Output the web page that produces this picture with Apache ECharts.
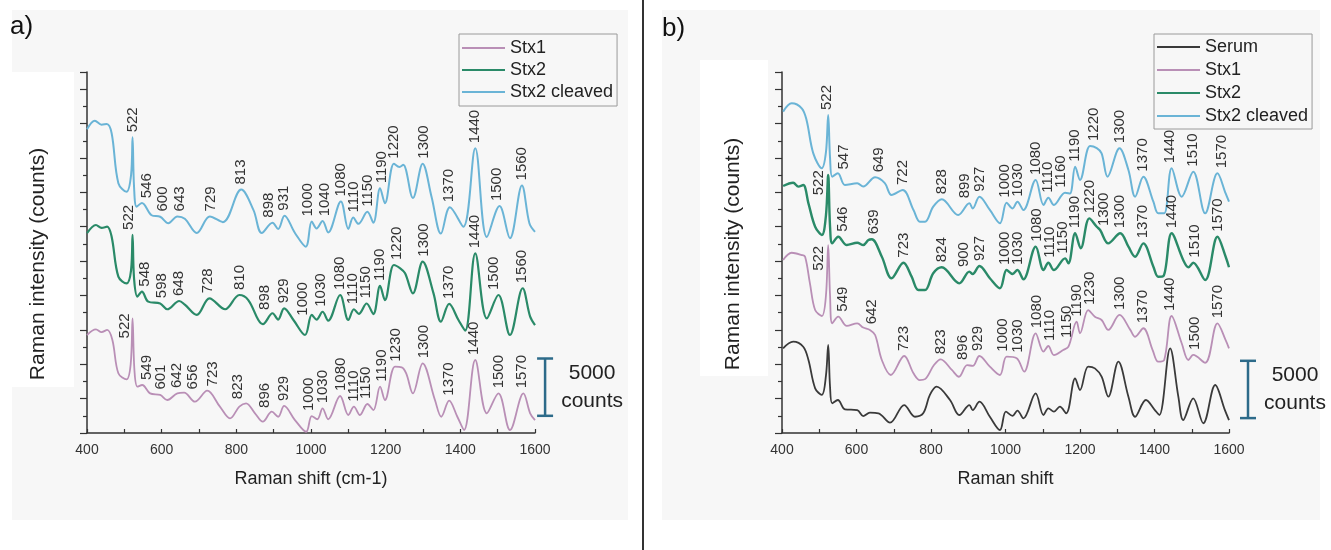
<!DOCTYPE html>
<html><head><meta charset="utf-8">
<script src="https://cdn.jsdelivr.net/npm/echarts/dist/echarts.min.js"></script>
<style>html,body{margin:0;padding:0;background:#fff}#c{width:1331px;height:550px}</style>
</head><body><div id="c"></div>
<script>
// ---------- DATA (Raman shift cm-1, intensity in thousands of counts, offset-stacked) ----------
const xTicks = [400, 600, 800, 1000, 1200, 1400, 1600];
const seriesNames = ['Serum', 'Stx1', 'Stx2', 'Stx2 cleaved'];

// Panel a
const aStx1 = [[400,8.55],[424,9.05],[439,8.8],[454,8.99],[468,8.12],[484,5.21],[506,4.68],[517,6.0],[522,10.0],[527,5.5],[535,4.04],[548,4.19],[569,3.46],[596,3.32],[615,2.88],[642,3.46],[660,3.52],[689,2.73],[722,3.69],[756,2.3],[783,1.28],[808,2.3],[826,2.59],[850,1.72],[871,0.99],[895,1.86],[912,1.42],[928,2.36],[957,1.13],[987,0.11],[1002,1.48],[1017,1.2],[1031,2.15],[1046,1.2],[1078,3.23],[1100,1.57],[1115,2.3],[1131,1.57],[1151,2.53],[1167,2.0],[1185,4.04],[1198,2.88],[1225,5.79],[1243,5.73],[1255,5.2],[1273,3.46],[1299,6.08],[1332,2.88],[1349,1.42],[1370,2.82],[1392,1.42],[1410,0.26],[1440,6.37],[1471,1.72],[1502,3.46],[1533,0.26],[1569,3.46],[1587,1.72],[1600,1.13]];
const aStx2 = [[400,17.43],[424,18.15],[439,17.9],[454,18.0],[466,17.13],[484,13.64],[506,13.06],[518,14.2],[522,17.28],[526,13.5],[535,11.9],[547,12.33],[564,11.46],[596,11.3],[615,10.8],[647,11.52],[662,11.2],[694,10.3],[728,11.75],[770,10.8],[808,12.04],[832,11.6],[859,9.86],[871,9.5],[897,10.45],[912,9.9],[928,10.88],[953,9.86],[984,8.55],[1002,10.3],[1015,9.9],[1031,10.58],[1046,9.8],[1078,12.04],[1100,9.86],[1115,10.8],[1128,10.4],[1149,11.3],[1167,10.38],[1185,12.83],[1198,11.6],[1222,14.66],[1239,14.37],[1252,13.94],[1273,12.19],[1299,14.95],[1328,12.2],[1348,9.71],[1370,11.26],[1395,9.86],[1413,8.93],[1440,15.68],[1471,10.0],[1502,12.04],[1533,8.55],[1567,12.63],[1587,10.15],[1600,9.42]];
const aCleaved = [[400,26.5],[421,27.25],[439,26.9],[453,26.96],[466,26.15],[484,21.8],[506,21.05],[518,22.5],[522,25.8],[526,21.5],[533,19.75],[547,20.07],[573,19.0],[596,18.87],[618,18.3],[642,18.9],[662,18.7],[694,17.45],[729,18.9],[764,18.4],[813,21.25],[846,19.45],[868,17.45],[897,18.35],[912,17.8],[929,18.96],[957,17.45],[986,16.26],[1002,18.45],[1015,17.85],[1031,18.5],[1046,17.5],[1080,20.2],[1100,17.8],[1113,18.8],[1127,18.25],[1151,19.3],[1167,18.35],[1185,21.35],[1198,20.05],[1222,23.5],[1237,23.2],[1247,23.4],[1273,20.5],[1299,23.5],[1323,20.6],[1348,17.4],[1372,19.7],[1408,18.0],[1440,24.85],[1471,17.1],[1505,19.8],[1533,17.0],[1565,21.6],[1585,18.3],[1600,17.55]];

// Panel b
const bSerum = [[403,7.39],[430,7.97],[457,7.53],[471,6.37],[489,3.9],[507,3.32],[518,5.0],[524,7.68],[529,4.0],[535,2.59],[550,2.88],[569,2.07],[602,2.0],[618,1.48],[636,1.77],[659,1.72],[690,0.9],[728,2.44],[757,1.42],[779,1.72],[797,3.32],[815,4.04],[851,2.88],[876,1.57],[903,2.44],[912,2.0],[930,2.73],[958,1.42],[985,0.26],[1001,1.86],[1019,1.5],[1032,1.95],[1048,1.28],[1081,3.46],[1102,1.57],[1115,2.15],[1130,1.86],[1146,2.3],[1163,1.72],[1187,4.77],[1200,3.75],[1222,5.79],[1240,5.64],[1258,4.91],[1276,3.17],[1303,6.22],[1330,3.17],[1348,1.42],[1377,2.88],[1401,2.0],[1413,1.57],[1442,7.39],[1464,3.17],[1477,1.13],[1504,3.03],[1531,0.85],[1563,4.19],[1589,2.0],[1600,1.13]];
const bStx1 = [[403,15.1],[426,15.73],[453,15.53],[462,15.38],[475,13.06],[489,10.73],[507,10.21],[518,12.0],[524,16.4],[529,12.0],[535,9.57],[551,10.15],[574,9.34],[602,9.57],[618,9.2],[636,8.99],[650,8.55],[668,6.37],[692,5.06],[728,6.72],[753,5.21],[770,4.62],[784,4.7],[808,5.93],[826,6.43],[856,5.5],[875,4.91],[897,5.93],[912,5.85],[930,6.72],[958,5.79],[985,5.06],[1003,6.66],[1030,6.52],[1050,5.35],[1081,8.7],[1102,7.1],[1115,7.59],[1130,6.8],[1155,7.24],[1169,7.53],[1191,9.71],[1200,8.7],[1222,10.73],[1240,10.15],[1258,9.86],[1276,8.99],[1306,10.3],[1335,9.0],[1348,8.4],[1370,9.14],[1395,7.24],[1410,6.22],[1426,6.37],[1446,10.21],[1473,7.83],[1491,6.37],[1504,6.81],[1536,6.13],[1569,9.57],[1591,8.1],[1600,7.39]];
const bStx2 = [[403,21.55],[430,21.84],[444,21.5],[457,21.64],[471,20.04],[489,18.0],[507,17.28],[518,19.0],[524,22.51],[529,18.0],[535,16.55],[551,17.13],[574,16.4],[602,16.6],[618,16.4],[632,16.84],[641,16.9],[668,15.38],[694,13.5],[726,14.86],[748,13.64],[766,12.48],[784,12.48],[806,13.94],[829,14.46],[876,13.06],[903,14.08],[912,13.87],[930,14.57],[958,13.5],[985,12.63],[1003,14.22],[1019,13.87],[1032,14.22],[1048,13.41],[1081,16.26],[1102,14.22],[1115,14.86],[1130,14.22],[1160,15.24],[1169,14.8],[1187,17.43],[1202,16.12],[1225,18.73],[1245,18.0],[1254,17.71],[1276,16.55],[1308,17.43],[1330,16.26],[1348,15.38],[1370,16.55],[1397,14.51],[1410,13.64],[1424,13.7],[1446,17.43],[1477,15.1],[1491,14.46],[1504,14.86],[1536,13.35],[1569,17.13],[1591,15.38],[1600,14.46]];
const bCleaved = [[403,28.04],[426,28.77],[453,28.33],[466,27.3],[484,24.4],[507,23.1],[518,24.5],[524,27.75],[529,24.0],[535,22.37],[550,22.66],[569,21.64],[602,21.79],[618,21.5],[650,22.31],[676,21.8],[694,20.77],[724,21.2],[753,19.46],[770,18.44],[784,18.44],[806,19.75],[829,20.4],[873,19.02],[903,20.04],[912,19.6],[930,20.62],[958,19.46],[985,18.3],[1003,20.1],[1019,19.6],[1032,20.18],[1048,19.46],[1081,22.08],[1102,19.9],[1115,20.53],[1130,19.9],[1160,20.97],[1173,20.9],[1187,23.24],[1200,22.08],[1227,25.04],[1245,24.85],[1258,24.4],[1274,22.37],[1306,24.85],[1330,22.95],[1348,20.62],[1370,22.37],[1397,20.18],[1410,19.17],[1426,19.17],[1446,23.1],[1473,20.62],[1504,22.8],[1536,19.17],[1569,22.66],[1591,20.9],[1600,20.18]];

// Peak annotations: position (cm-1) and printed text
const aStx1LabelAt   = [502,560,598,640,683,737,805,877,928,993,1033,1080,1115,1147,1189,1228,1301,1370,1437,1502,1565];
const aStx1LabelText = ['522','549','601','642','656','723','823','896','929','1000','1030','1080','1110','1150','1190','1230','1300','1370','1440','1500','1570'];
const aStx2LabelAt   = [511,555,601,647,725,810,877,926,978,1026,1076,1113,1147,1185,1230,1301,1370,1440,1490,1565];
const aStx2LabelText = ['522','548','598','648','728','810','898','929','1000','1030','1080','1110','1150','1190','1220','1300','1370','1440','1500','1560'];
const aCleavedLabelAt   = [522,560,604,649,731,813,888,928,991,1038,1080,1115,1151,1189,1222,1301,1370,1440,1498,1565];
const aCleavedLabelText = ['522','546','600','643','729','813','898','931','1000','1040','1080','1110','1150','1190','1220','1300','1370','1440','1500','1560'];
const bStx1LabelAt   = [500,563,641,728,826,885,927,994,1032,1084,1118,1166,1191,1227,1306,1368,1440,1509,1571];
const bStx1LabelText = ['522','549','642','723','823','896','929','1000','1030','1080','1110','1150','1190','1230','1300','1370','1440','1500','1570'];
const bStx2LabelAt   = [500,563,647,726,829,889,932,999,1032,1084,1118,1155,1187,1227,1263,1306,1370,1446,1509,1571];
const bStx2LabelText = ['522','546','639','723','824','900','927','1000','1030','1080','1110','1150','1190','1220','1300','1300','1370','1440','1510','1570'];
const bCleavedLabelAt   = [520,566,659,724,829,891,932,999,1032,1081,1115,1148,1187,1236,1308,1370,1442,1504,1581];
const bCleavedLabelText = ['522','547','649','722','828','899','927','1000','1030','1080','1110','1160','1190','1220','1300','1370','1440','1510','1570'];

// Scale bars: [position cm-1, bottom, top] (thousand counts) and their text
const aScaleBar = [[1627, 1.5, 6.5]];
const bScaleBar = [[1651, 1.3, 6.3]];
const scaleText = ['5000', 'counts'];

// ---------- STYLE ----------
const COLORS = {'Serum':'#3a3a3a','Stx1':'#b98fb6','Stx2':'#2a8a68','Stx2 cleaved':'#6ab4d6'};
const FONT = '"Liberation Sans", Arial, sans-serif';
const BAR_COLOR = '#2d6b8a';

function interp(d, x) {
  if (x <= d[0][0]) return d[0][1];
  for (let i = 1; i < d.length; i++) {
    if (x <= d[i][0]) {
      const t = (x - d[i-1][0]) / (d[i][0] - d[i-1][0]);
      return d[i-1][1] + t * (d[i][1] - d[i-1][1]);
    }
  }
  return d[d.length-1][1];
}
function localMax(d, x, w) {
  let m = -Infinity;
  for (let t = x - w; t <= x + w; t += 1) m = Math.max(m, interp(d, t));
  return m;
}

function lineSeries(name, data, idx, width) {
  return {
    type: 'line', name, data, xAxisIndex: idx, yAxisIndex: idx,
    smooth: 0.35, symbol: 'none', showSymbol: false,
    lineStyle: {color: COLORS[name], width: width || 2},
    itemStyle: {color: COLORS[name]},
    z: 3
  };
}
function labelSeries(curve, at, texts, idx) {
  return {
    type: 'custom', coordinateSystem: 'cartesian2d', xAxisIndex: idx, yAxisIndex: idx,
    clip: false, silent: true, z: 5,
    data: at.map((x, i) => [x, (localMax(curve, x, 12) + localMax(curve, +texts[i], 8)) / 2]),
    renderItem: (params, api) => {
      const p = api.coord([api.value(0), api.value(1)]);
      return {
        type: 'text', x: p[0], y: p[1] - 5, rotation: Math.PI / 2,
        style: {text: texts[params.dataIndex], x: 0, y: 0, align: 'left', verticalAlign: 'middle',
                font: '15px ' + FONT, fill: '#333'}
      };
    }
  };
}
function scaleSeries(bar, idx) {
  return {
    type: 'custom', coordinateSystem: 'cartesian2d', xAxisIndex: idx, yAxisIndex: idx,
    clip: false, silent: true, z: 5, data: bar,
    renderItem: (params, api) => {
      const top = api.coord([api.value(0), api.value(2)]);
      const bot = api.coord([api.value(0), api.value(1)]);
      const x = top[0], cy = (top[1] + bot[1]) / 2;
      const st = {stroke: BAR_COLOR, lineWidth: 2.5};
      return {type: 'group', children: [
        {type: 'line', shape: {x1: x, y1: top[1], x2: x, y2: bot[1]}, style: st},
        {type: 'line', shape: {x1: x - 8, y1: top[1], x2: x + 8, y2: top[1]}, style: st},
        {type: 'line', shape: {x1: x - 8, y1: bot[1], x2: x + 8, y2: bot[1]}, style: st},
        {type: 'text', x: x + 47, y: cy - 14, style: {text: scaleText[0], align: 'center', verticalAlign: 'middle', font: '21px ' + FONT, fill: '#222'}},
        {type: 'text', x: x + 47, y: cy + 14, style: {text: scaleText[1], align: 'center', verticalAlign: 'middle', font: '21px ' + FONT, fill: '#222'}}
      ]};
    }
  };
}

function xAxisDef(idx, name) {
  return {
    type: 'value', gridIndex: idx, min: 400, max: 1600, interval: 200,
    name, nameLocation: 'middle', nameGap: 37,
    nameTextStyle: {fontSize: 18, color: '#222', fontFamily: FONT},
    axisLine: {lineStyle: {color: '#333', width: 1.5}},
    axisTick: {inside: true, length: 4, lineStyle: {color: '#333', width: 1.2}},
    minorTick: {show: true, splitNumber: 2, length: 4, lineStyle: {color: '#333', width: 1.2}},
    axisLabel: {fontSize: 14, color: '#333', fontFamily: FONT, margin: 10,
                formatter: v => xTicks.includes(v) ? String(v) : ''},
    splitLine: {show: false}
  };
}
function yAxisDef(idx) {
  return {
    type: 'value', gridIndex: idx, min: 0, max: 31.5, interval: 3,
    axisLine: {show: true, lineStyle: {color: '#333', width: 1.5}},
    axisTick: {show: true, inside: false, length: 7, lineStyle: {color: '#333', width: 1.2}},
    minorTick: {show: true, splitNumber: 2, length: 4, lineStyle: {color: '#333', width: 1.2}},
    axisLabel: {show: false},
    splitLine: {show: false}
  };
}
function legendDef(left, names, pad) {
  return {
    left, top: 34, orient: 'vertical', data: names,
    icon: 'rect', itemWidth: 43, itemHeight: 2, itemGap: pad.gap, padding: pad.p,
    borderColor: '#9a9a9a', borderWidth: 1, backgroundColor: 'transparent',
    textStyle: {fontSize: 18, color: '#222', fontFamily: FONT}
  };
}

const chart = echarts.init(document.getElementById('c'), null, {renderer: 'canvas'});
chart.setOption({
  animation: false,
  backgroundColor: '#ffffff',
  textStyle: {fontFamily: FONT},
  graphic: [
    {type: 'rect', shape: {x: 12, y: 10, width: 616, height: 510}, style: {fill: '#f7f7f7'}, z: -10},
    {type: 'rect', shape: {x: 662, y: 10, width: 658, height: 510}, style: {fill: '#f7f7f7'}, z: -10},
    {type: 'rect', shape: {x: 12, y: 72, width: 62, height: 315}, style: {fill: '#ffffff'}, z: -9},
    {type: 'rect', shape: {x: 700, y: 60, width: 68, height: 316}, style: {fill: '#ffffff'}, z: -9},
    {type: 'rect', shape: {x: 642, y: 0, width: 2, height: 550}, style: {fill: '#333'}, z: 10},
    {type: 'text', x: 10, y: 27, style: {text: 'a)', font: '26px ' + FONT, fill: '#111', verticalAlign: 'middle'}},
    {type: 'text', x: 662, y: 29, style: {text: 'b)', font: '26px ' + FONT, fill: '#111', verticalAlign: 'middle'}},
    {type: 'text', x: 38, y: 264, rotation: Math.PI / 2, style: {text: 'Raman intensity (counts)', font: '21px ' + FONT, fill: '#222', align: 'center', verticalAlign: 'middle'}},
    {type: 'text', x: 733, y: 254, rotation: Math.PI / 2, style: {text: 'Raman intensity (counts)', font: '21px ' + FONT, fill: '#222', align: 'center', verticalAlign: 'middle'}}
  ],
  legend: [
    legendDef(459, ['Stx1', 'Stx2', 'Stx2 cleaved'], {gap: 4, p: [5, 4, 5, 3]}),
    legendDef(1154, ['Serum', 'Stx1', 'Stx2', 'Stx2 cleaved'], {gap: 5, p: [4, 4, 4, 3]})
  ],
  grid: [
    {left: 87, top: 72, width: 448, height: 361},
    {left: 782, top: 72, width: 447, height: 361}
  ],
  xAxis: [xAxisDef(0, 'Raman shift (cm-1)'), xAxisDef(1, 'Raman shift')],
  yAxis: [yAxisDef(0), yAxisDef(1)],
  series: [
    lineSeries('Stx1', aStx1, 0, 1.8),
    lineSeries('Stx2', aStx2, 0, 2.2),
    lineSeries('Stx2 cleaved', aCleaved, 0, 2),
    labelSeries(aStx1, aStx1LabelAt, aStx1LabelText, 0),
    labelSeries(aStx2, aStx2LabelAt, aStx2LabelText, 0),
    labelSeries(aCleaved, aCleavedLabelAt, aCleavedLabelText, 0),
    scaleSeries(aScaleBar, 0),
    lineSeries('Serum', bSerum, 1, 1.8),
    lineSeries('Stx1', bStx1, 1, 1.8),
    lineSeries('Stx2', bStx2, 1, 2.4),
    lineSeries('Stx2 cleaved', bCleaved, 1, 2),
    labelSeries(bStx1, bStx1LabelAt, bStx1LabelText, 1),
    labelSeries(bStx2, bStx2LabelAt, bStx2LabelText, 1),
    labelSeries(bCleaved, bCleavedLabelAt, bCleavedLabelText, 1),
    scaleSeries(bScaleBar, 1)
  ]
});
</script></body></html>
